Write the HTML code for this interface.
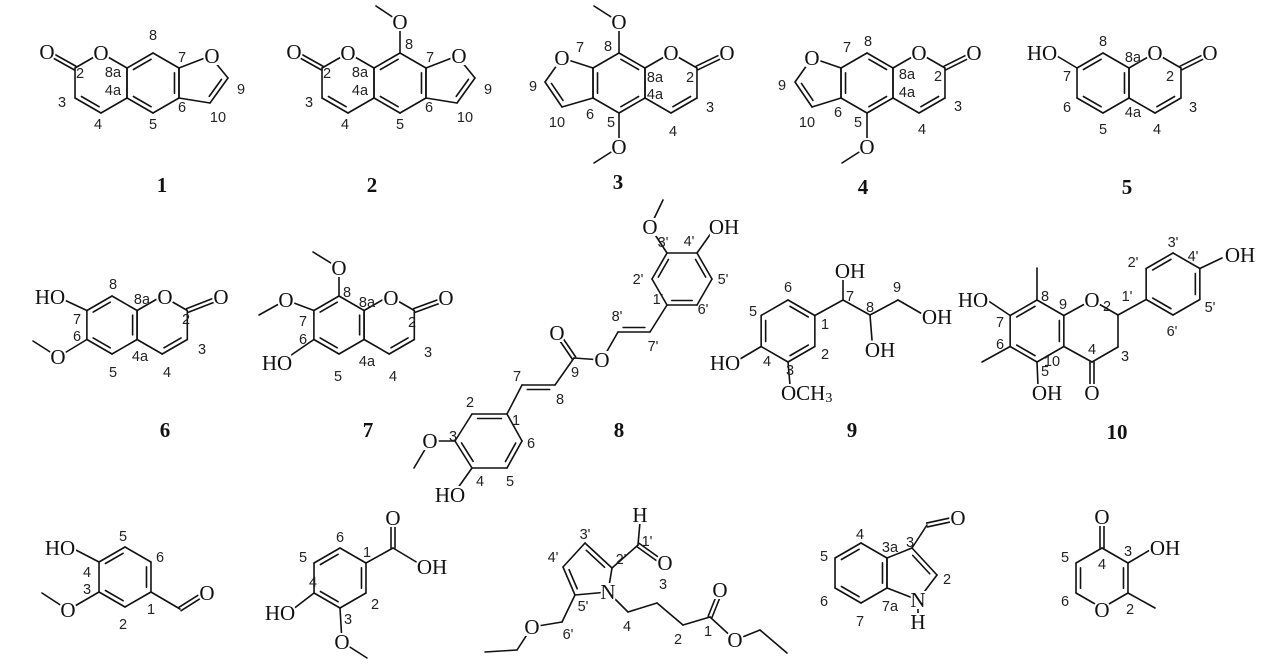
<!DOCTYPE html>
<html><head><meta charset="utf-8">
<style>
html,body{margin:0;padding:0;background:#fff;}
svg{display:block;}
.a{font-family:"Liberation Serif",serif;font-size:21px;fill:#111;stroke:#fff;stroke-width:4px;paint-order:stroke;stroke-linejoin:round;text-anchor:middle;dominant-baseline:central;}
.n{font-family:"Liberation Sans",sans-serif;font-size:14.5px;fill:#222;text-anchor:middle;dominant-baseline:central;}
.c{font-family:"Liberation Serif",serif;font-size:21px;font-weight:bold;fill:#111;text-anchor:middle;dominant-baseline:central;}
</style></head>
<body>
<svg id="s" width="1261" height="665" viewBox="0 0 1261 665" xmlns="http://www.w3.org/2000/svg">
<rect width="1261" height="665" fill="#fff"/>
<g id="bonds" stroke="#111" stroke-width="1.6" stroke-linecap="round" fill="none"></g>
<g id="masks" fill="#fff"></g>
<g id="labels">
<!-- 1 -->
<text class="a" x="101" y="53">O</text><text class="a" x="47" y="52">O</text><text class="a" x="212" y="56">O</text>
<text class="n" x="80" y="74">2</text><text class="n" x="62" y="103">3</text><text class="n" x="98" y="125">4</text><text class="n" x="113" y="73">8a</text><text class="n" x="113" y="91">4a</text><text class="n" x="153" y="125">5</text><text class="n" x="182" y="108">6</text><text class="n" x="218" y="118">10</text><text class="n" x="241" y="90">9</text><text class="n" x="182" y="58">7</text><text class="n" x="153" y="36">8</text>
<text class="c" x="162" y="185">1</text>
<!-- 2 -->
<text class="a" x="348" y="53">O</text><text class="a" x="294" y="52">O</text><text class="a" x="459" y="56">O</text><text class="a" x="400" y="22">O</text>
<text class="n" x="327" y="74">2</text><text class="n" x="309" y="103">3</text><text class="n" x="345" y="125">4</text><text class="n" x="360" y="73">8a</text><text class="n" x="360" y="91">4a</text><text class="n" x="400" y="125">5</text><text class="n" x="429" y="108">6</text><text class="n" x="465" y="118">10</text><text class="n" x="488" y="90">9</text><text class="n" x="430" y="58">7</text><text class="n" x="409" y="45">8</text>
<text class="c" x="372" y="185">2</text>
<!-- 3 -->
<text class="a" x="671" y="53">O</text><text class="a" x="727" y="53">O</text><text class="a" x="562" y="58">O</text><text class="a" x="619" y="22">O</text><text class="a" x="619" y="147">O</text>
<text class="n" x="608" y="47">8</text><text class="n" x="580" y="48">7</text><text class="n" x="533" y="87">9</text><text class="n" x="557" y="123">10</text><text class="n" x="590" y="115">6</text><text class="n" x="611" y="123">5</text><text class="n" x="655" y="78">8a</text><text class="n" x="655" y="95">4a</text><text class="n" x="690" y="78">2</text><text class="n" x="710" y="108">3</text><text class="n" x="673" y="132">4</text>
<text class="c" x="618" y="182">3</text>
<!-- 4 -->
<text class="a" x="919" y="53">O</text><text class="a" x="974" y="53">O</text><text class="a" x="812" y="58">O</text><text class="a" x="867" y="147">O</text>
<text class="n" x="868" y="42">8</text><text class="n" x="847" y="48">7</text><text class="n" x="782" y="86">9</text><text class="n" x="807" y="123">10</text><text class="n" x="838" y="113">6</text><text class="n" x="858" y="123">5</text><text class="n" x="907" y="75">8a</text><text class="n" x="907" y="93">4a</text><text class="n" x="938" y="77">2</text><text class="n" x="958" y="107">3</text><text class="n" x="922" y="130">4</text>
<text class="c" x="863" y="187">4</text>
<!-- 5 -->
<text class="a" x="1155" y="53">O</text><text class="a" x="1210" y="53">O</text><text class="a" x="1042" y="53">HO</text>
<text class="n" x="1103" y="42">8</text><text class="n" x="1133" y="58">8a</text><text class="n" x="1067" y="77">7</text><text class="n" x="1067" y="108">6</text><text class="n" x="1103" y="130">5</text><text class="n" x="1133" y="113">4a</text><text class="n" x="1157" y="130">4</text><text class="n" x="1193" y="108">3</text><text class="n" x="1170" y="77">2</text>
<text class="c" x="1127" y="187">5</text>
<!-- 6 -->
<text class="a" x="165" y="297">O</text><text class="a" x="221" y="297">O</text><text class="a" x="50" y="297">HO</text><text class="a" x="58" y="357">O</text>
<text class="n" x="113" y="285">8</text><text class="n" x="142" y="300">8a</text><text class="n" x="77" y="320">7</text><text class="n" x="77" y="337">6</text><text class="n" x="113" y="373">5</text><text class="n" x="140" y="357">4a</text><text class="n" x="167" y="373">4</text><text class="n" x="202" y="350">3</text><text class="n" x="186" y="320">2</text>
<text class="c" x="165" y="430">6</text>
<!-- 7 -->
<text class="a" x="391" y="298">O</text><text class="a" x="446" y="298">O</text><text class="a" x="339" y="268">O</text><text class="a" x="286" y="300">O</text><text class="a" x="277" y="363">HO</text>
<text class="n" x="347" y="293">8</text><text class="n" x="367" y="303">8a</text><text class="n" x="303" y="322">7</text><text class="n" x="303" y="340">6</text><text class="n" x="338" y="377">5</text><text class="n" x="367" y="362">4a</text><text class="n" x="393" y="377">4</text><text class="n" x="428" y="353">3</text><text class="n" x="412" y="323">2</text>
<text class="c" x="368" y="430">7</text>
<!-- 8 -->
<text class="a" x="650" y="227">O</text><text class="a" x="724" y="227">OH</text><text class="a" x="557" y="333">O</text><text class="a" x="602" y="360">O</text><text class="a" x="430" y="441">O</text><text class="a" x="450" y="495">HO</text>
<text class="n" x="663" y="243">3'</text><text class="n" x="689" y="242">4'</text><text class="n" x="638" y="280">2'</text><text class="n" x="658" y="300">1'</text><text class="n" x="723" y="280">5'</text><text class="n" x="703" y="310">6'</text><text class="n" x="617" y="317">8'</text><text class="n" x="653" y="347">7'</text><text class="n" x="575" y="373">9</text><text class="n" x="517" y="377">7</text><text class="n" x="560" y="400">8</text><text class="n" x="470" y="403">2</text><text class="n" x="516" y="421">1</text><text class="n" x="453" y="437">3</text><text class="n" x="531" y="444">6</text><text class="n" x="480" y="482">4</text><text class="n" x="510" y="482">5</text>
<text class="c" x="619" y="430">8</text>
<!-- 9 -->
<text class="a" x="850" y="271">OH</text><text class="a" x="880" y="350">OH</text><text class="a" x="937" y="317">OH</text><text class="a" x="725" y="363">HO</text>
<text class="a" x="781" y="393" style="text-anchor:start">OCH<tspan font-size="14" dy="5">3</tspan></text>
<text class="n" x="850" y="297">7</text><text class="n" x="870" y="308">8</text><text class="n" x="897" y="288">9</text><text class="n" x="788" y="288">6</text><text class="n" x="753" y="312">5</text><text class="n" x="825" y="325">1</text><text class="n" x="825" y="355">2</text><text class="n" x="790" y="371">3</text><text class="n" x="767" y="362">4</text>
<text class="c" x="852" y="430">9</text>
<!-- 10 -->
<text class="a" x="973" y="300">HO</text><text class="a" x="1092" y="300">O</text><text class="a" x="1092" y="393">O</text><text class="a" x="1047" y="393">OH</text><text class="a" x="1240" y="255">OH</text>
<text class="n" x="1045" y="297">8</text><text class="n" x="1063" y="305">9</text><text class="n" x="1107" y="307">2</text><text class="n" x="1127" y="297">1'</text><text class="n" x="1133" y="263">2'</text><text class="n" x="1173" y="243">3'</text><text class="n" x="1193" y="257">4'</text><text class="n" x="1210" y="308">5'</text><text class="n" x="1172" y="332">6'</text><text class="n" x="1125" y="357">3</text><text class="n" x="1092" y="350">4</text><text class="n" x="1052" y="362">10</text><text class="n" x="1045" y="372">5</text><text class="n" x="1000" y="345">6</text><text class="n" x="1000" y="323">7</text>
<text class="c" x="1117" y="432">10</text>
<!-- 11 -->
<text class="a" x="60" y="548">HO</text><text class="a" x="68" y="610">O</text><text class="a" x="207" y="593">O</text>
<text class="n" x="123" y="537">5</text><text class="n" x="160" y="558">6</text><text class="n" x="87" y="573">4</text><text class="n" x="87" y="590">3</text><text class="n" x="123" y="625">2</text><text class="n" x="151" y="610">1</text>
<!-- 12 -->
<text class="a" x="393" y="518">O</text><text class="a" x="432" y="567">OH</text><text class="a" x="280" y="613">HO</text><text class="a" x="342" y="642">O</text>
<text class="n" x="340" y="538">6</text><text class="n" x="303" y="558">5</text><text class="n" x="367" y="553">1</text><text class="n" x="375" y="605">2</text><text class="n" x="313" y="583">4</text><text class="n" x="348" y="620">3</text>
<!-- 13 -->
<text class="a" x="608" y="592">N</text><text class="a" x="640" y="515">H</text><text class="a" x="665" y="563">O</text><text class="a" x="720" y="590">O</text><text class="a" x="735" y="640">O</text><text class="a" x="532" y="627">O</text>
<text class="n" x="585" y="535">3'</text><text class="n" x="553" y="558">4'</text><text class="n" x="621" y="560">2'</text><text class="n" x="647" y="542">1'</text><text class="n" x="583" y="607">5'</text><text class="n" x="568" y="635">6'</text><text class="n" x="627" y="627">4</text><text class="n" x="663" y="585">3</text><text class="n" x="678" y="640">2</text><text class="n" x="708" y="632">1</text>
<!-- 14 -->
<text class="a" x="918" y="600">N</text><text class="a" x="918" y="622">H</text><text class="a" x="958" y="518">O</text>
<text class="n" x="860" y="535">4</text><text class="n" x="890" y="548">3a</text><text class="n" x="910" y="543">3</text><text class="n" x="947" y="580">2</text><text class="n" x="890" y="607">7a</text><text class="n" x="860" y="622">7</text><text class="n" x="824" y="557">5</text><text class="n" x="824" y="602">6</text>
<!-- 15 -->
<text class="a" x="1102" y="517">O</text><text class="a" x="1165" y="548">OH</text><text class="a" x="1102" y="610">O</text>
<text class="n" x="1065" y="558">5</text><text class="n" x="1102" y="565">4</text><text class="n" x="1128" y="552">3</text><text class="n" x="1065" y="602">6</text><text class="n" x="1130" y="610">2</text>
</g>
</svg>
<script>
(function(){
var g=document.getElementById('bonds'),NS='http://www.w3.org/2000/svg';
function L(a,b){var e=document.createElementNS(NS,'line');e.setAttribute('x1',a[0]);e.setAttribute('y1',a[1]);e.setAttribute('x2',b[0]);e.setAttribute('y2',b[1]);g.appendChild(e);}
function D2(a,b){var dx=b[0]-a[0],dy=b[1]-a[1],l=Math.hypot(dx,dy),nx=-dy/l*2,ny=dx/l*2;L([a[0]+nx,a[1]+ny],[b[0]+nx,b[1]+ny]);L([a[0]-nx,a[1]-ny],[b[0]-nx,b[1]-ny]);}
function inner(a,b,c){var dx=b[0]-a[0],dy=b[1]-a[1],l=Math.hypot(dx,dy),nx=-dy/l,ny=dx/l;var mx=(a[0]+b[0])/2,my=(a[1]+b[1])/2;if((c[0]-mx)*nx+(c[1]-my)*ny<0){nx=-nx;ny=-ny;}var o=4.5,t=0.16;L([a[0]+dx*t+nx*o,a[1]+dy*t+ny*o],[b[0]-dx*t+nx*o,b[1]-dy*t+ny*o]);}
function hx(cx,cy,s){s=s||30;var d=s*0.866;return [[cx,cy-s],[cx+d,cy-s/2],[cx+d,cy+s/2],[cx,cy+s],[cx-d,cy+s/2],[cx-d,cy-s/2]];}
function ring(p,db){var n=p.length,cx=0,cy=0;p.forEach(function(q){cx+=q[0];cy+=q[1];});cx/=n;cy/=n;for(var i=0;i<n;i++)L(p[i],p[(i+1)%n]);(db||[]).forEach(function(i){inner(p[i],p[(i+1)%n],[cx,cy]);});}
function path(pts){for(var i=0;i<pts.length-1;i++)L(pts[i],pts[i+1]);}
[0,247].forEach(function(o){var A=hx(101+o,83),B=hx(153+o,83);ring(A,[3]);ring(B,[5,1,3]);ring([B[1],[210+o,56],[228+o,78],[210+o,103],B[2]],[2]);D2(A[5],[50+o,54]);});
path([[400,53],[400,22],[376,6]]);
(function(){var C=hx(619,83),P=hx(671,83);ring(C,[0,2,4]);ring(P,[2]);D2(P[1],[724,55]);ring([C[5],[562,58],[545,82],[562,107],C[4]],[2]);path([C[0],[619,22],[594,6]]);path([C[3],[619,147],[594,163]]);})();
(function(){var C=hx(867,83),P=hx(919,83);ring(C,[0,2,4]);ring(P,[2]);D2(P[1],[971,55]);ring([C[5],[812,58],[795,82],[812,107],C[4]],[2]);path([C[3],[867,147],[842,163]]);})();
(function(){var C=hx(1103,83),P=hx(1155,83);ring(C,[5,1,3]);ring(P,[2]);D2(P[1],[1207,55]);L(C[5],[1052,53]);})();
(function(){var C=hx(112,325,29),P=hx(162.2,325,29);ring(C,[5,1,3]);ring(P,[2]);D2(P[1],[217,299]);L(C[5],[58,297]);path([C[4],[58,357],[33,341]]);})();
(function(){var C=hx(339,325,29),P=hx(389.2,325,29);ring(C,[5,1,3]);ring(P,[2]);D2(P[1],[443,300]);path([C[0],[339,268],[313,252]]);path([C[5],[286,300],[259,315]]);L(C[4],[284,360]);})();
(function(){var U=[[667,253],[697,253],[712,279],[697,305],[667,305],[652,279]];ring(U,[5,1,3]);path([U[0],[650,227],[663,200]]);L(U[1],[714,229]);
L(U[4],[650,332]);L([650,332],[618,332]);inner([650,332],[618,332],[634,320]);L([618,332],[602,360]);L([602,360],[574,358]);D2([574,358],[559,336]);L([574,358],[555,385]);L([555,385],[522,385]);inner([555,385],[522,385],[538,400]);
var R=[[472,414],[507,414],[522,441],[507,468],[472,468],[455,441]];L([522,385],R[1]);ring(R,[0,2,4]);path([R[5],[430,441],[414,468]]);L(R[4],[455,492]);})();
(function(){var R=hx(788,331,31);ring(R,[0,2,4]);L(R[4],[735,362]);L(R[3],[790,385]);path([R[1],[843,300],[870,315],[898,300],[924,315]]);L([843,300],[843,278]);L([870,315],[872,340]);})();
(function(){var A=hx(1037,331,31);ring(A,[5,1,3]);path([A[1],[1092,300],[1118,315],[1118,347],[1092,362],A[2]]);D2([1092,362],[1092,385]);L(A[0],[1037,268]);L(A[5],[987,300]);L(A[4],[982,362]);L(A[3],[1038,386]);
var B=hx(1173,284,31);ring(B,[5,1,3]);L([1118,315],B[4]);L(B[1],[1222,258]);})();
(function(){var R=hx(125,577);ring(R,[5,1,3]);L(R[5],[72,548]);path([R[4],[68,610],[42,593]]);L(R[2],[180,609]);D2([180,609],[199,597]);})();
(function(){var R=hx(340,578);ring(R,[5,1,3]);L(R[1],[393,548]);D2([393,548],[393,524]);L([393,548],[418,563]);L(R[4],[292,610]);path([R[3],[342,642],[367,658]]);})();
(function(){var N=[608,592],C2=[612,568],C3=[585,543],C4=[563,567],C5=[575,595];ring([N,C2,C3,C4,C5],[1,3]);path([C2,[638,545],[640,522]]);D2([638,545],[659,560]);
path([N,[628,612],[657,603],[683,625],[710,617],[735,640],[760,630],[787,653]]);D2([710,617],[718,597]);path([C5,[562,622],[532,627],[517,650],[485,652]]);})();
(function(){var R=hx(861,573);ring(R,[5,1,3]);var P=[R[1],[912,548],[937,575],[918,600],R[2]];ring(P,[1]);L([918,600],[918,614]);path([[912,548],[927,525]]);D2([927,525],[950,520]);})();
(function(){var R=hx(1102,578);ring(R,[4,1]);D2(R[0],[1102,524]);L(R[1],[1150,550]);L(R[2],[1155,608]);})();
// white masks behind atom labels
var m=document.getElementById('masks');
Array.prototype.forEach.call(document.querySelectorAll('text.a'),function(t){var b=t.getBBox();var r=document.createElementNS(NS,'rect');r.setAttribute('x',b.x+1);r.setAttribute('y',b.y+3);r.setAttribute('width',Math.max(0,b.width-2));r.setAttribute('height',Math.max(0,b.height-6));m.appendChild(r);});
})();
</script>
</body></html>
